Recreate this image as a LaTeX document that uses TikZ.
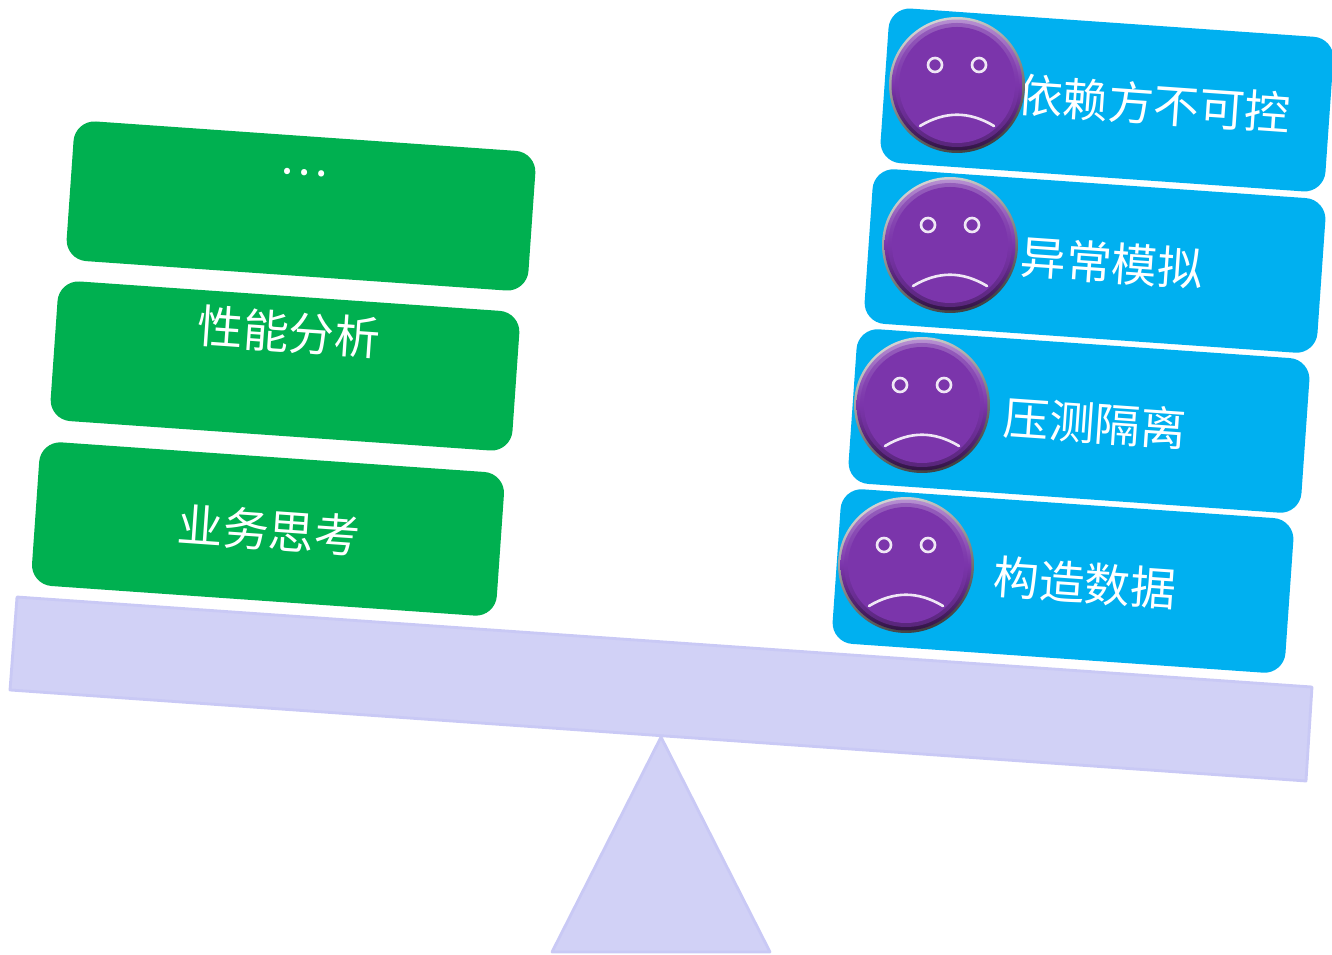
\documentclass[tikz,border=0pt]{standalone}
\usepackage{fontspec}
\usepackage{xcolor}
\usetikzlibrary{calc}
\setmainfont{Noto Sans CJK SC}
\definecolor{goodgreen}{HTML}{00B050}
\definecolor{badblue}{HTML}{00B0F0}
\definecolor{beamfill}{HTML}{D1D1F6}
\definecolor{beamline}{HTML}{C9C9F5}
\definecolor{facepurple}{HTML}{7B35AB}
\tikzset{
  goodbox/.style={fill=goodgreen, rounded corners=0.42cm, rotate=-4, minimum width=9.26cm, minimum height=2.8cm, inner sep=0pt},
  badbox/.style={fill=badblue, rounded corners=0.42cm, rotate=-4, minimum width=9.08cm, minimum height=3.1cm, inner sep=0pt},
  boxtext/.style={text=white, font=\fontsize{26}{26}\selectfont, rotate=-4, inner sep=0pt},
  beampart/.style={fill=beamfill, draw=beamline, line width=1.6pt, line join=round},
  facering/.style={circle, minimum size=2.72cm, inner sep=0pt, shading=axis, left color=gray!35, right color=black!75, shading angle=20},
  facerim/.style={circle, minimum size=2.62cm, inner sep=0pt, top color=facepurple!55!white, bottom color=facepurple!40!black, middle color=facepurple},
  faceglow/.style={facepurple, opacity=0.5},
  faceinner/.style={facepurple},
  faceeye/.style={draw=white!88!facepurple, line width=1.5pt},
  facemouth/.style={draw=white!88!facepurple, line width=1.5pt, line cap=round},
}
\begin{document}
\begin{tikzpicture}[x=0.02cm, y=-0.02cm]
  \useasboundingbox (0,0) rectangle (1332,955);
  % Lever
  \draw[beampart] (17,597) -- (1312,687) -- (1306,781) -- (10,690) -- cycle;
  \draw[beampart] (661,737) -- (770,952) -- (552,952) -- cycle;
  % Left side
  \node[goodbox] (good3) at (301,206) {};
  \node[goodbox] (good2) at (285,366) {};
  \node[goodbox, minimum width=9.32cm, minimum height=2.88cm] (good1) at (268,529) {};
  \node[boxtext] (goodtext3) at (304,173) {…};
  \node[boxtext] (goodtext2) at (289,332) {性能分析};
  \node[boxtext] (goodtext1) at (269,530) {业务思考};
  % Right side
  \node[badbox, minimum width=8.92cm] (bad4) at (1107,100) {};
  \node[badbox] (bad3) at (1095,261) {};
  \node[badbox] (bad2) at (1079,421) {};
  \node[badbox] (bad1) at (1063,581) {};
  \node[boxtext] (badtext4) at (1154,104) {依赖方不可控};
  \node[boxtext] (badtext3) at (1112,263) {异常模拟};
  \node[boxtext] (badtext2) at (1095,423) {压测隔离};
  \node[boxtext] (badtext1) at (1085,583) {构造数据};
  % Face on box 4
  \node[facering] (face4) at (957,85) {};
  \node[facerim] at (face4) {};
  \fill[faceglow] (face4) circle (62);
  \fill[faceinner] (face4) circle (58);
  \draw[faceeye] ($(face4)+(-22,-20)$) circle (7);
  \draw[faceeye] ($(face4)+(22,-20)$) circle (7);
  \draw[facemouth] ($(face4)+(-37,41)$) .. controls ($(face4)+(-12,26)$) and ($(face4)+(12,26)$) .. ($(face4)+(37,41)$);
  % Face on box 3
  \node[facering] (face3) at (950,245) {};
  \node[facerim] at (face3) {};
  \fill[faceglow] (face3) circle (62);
  \fill[faceinner] (face3) circle (58);
  \draw[faceeye] ($(face3)+(-22,-20)$) circle (7);
  \draw[faceeye] ($(face3)+(22,-20)$) circle (7);
  \draw[facemouth] ($(face3)+(-37,41)$) .. controls ($(face3)+(-12,26)$) and ($(face3)+(12,26)$) .. ($(face3)+(37,41)$);
  % Face on box 2
  \node[facering] (face2) at (922,405) {};
  \node[facerim] at (face2) {};
  \fill[faceglow] (face2) circle (62);
  \fill[faceinner] (face2) circle (58);
  \draw[faceeye] ($(face2)+(-22,-20)$) circle (7);
  \draw[faceeye] ($(face2)+(22,-20)$) circle (7);
  \draw[facemouth] ($(face2)+(-37,41)$) .. controls ($(face2)+(-12,26)$) and ($(face2)+(12,26)$) .. ($(face2)+(37,41)$);
  % Face on box 1
  \node[facering] (face1) at (906,565) {};
  \node[facerim] at (face1) {};
  \fill[faceglow] (face1) circle (62);
  \fill[faceinner] (face1) circle (58);
  \draw[faceeye] ($(face1)+(-22,-20)$) circle (7);
  \draw[faceeye] ($(face1)+(22,-20)$) circle (7);
  \draw[facemouth] ($(face1)+(-37,41)$) .. controls ($(face1)+(-12,26)$) and ($(face1)+(12,26)$) .. ($(face1)+(37,41)$);
\end{tikzpicture}
\end{document}
